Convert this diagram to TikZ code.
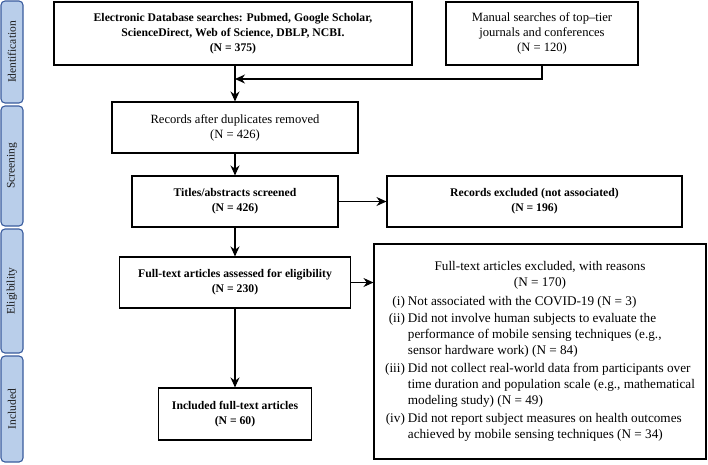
\documentclass[tikz,border=0pt]{standalone}
\usepackage{fontspec}
\setmainfont{Liberation Serif}
\usetikzlibrary{arrows.meta,calc}
\definecolor{barfill}{HTML}{B9CEEA}
\definecolor{barline}{HTML}{3A5C9E}
\begin{document}
\begin{tikzpicture}[x=1pt,y=-1pt,
  box/.style={draw=black,line width=1.1pt,fill=white,align=center,inner sep=2pt,
    font=\fontsize{12.6}{15}\selectfont},
  bbox/.style={box,font=\fontsize{11.7}{15}\selectfont\bfseries},
  bar/.style={draw=barline,fill=barfill,line width=1.1pt,rounded corners=4pt},
  barlabel/.style={rotate=90,font=\fontsize{11.5}{13}\selectfont,text=black!90},
  conn/.style={line width=1.1pt,-{Stealth[length=10pt,width=9pt]}},
  plain/.style={line width=1.1pt}]
\useasboundingbox (0,0) rectangle (708,464);
% side bars
\draw[bar] (1,1) rectangle (23,103);
\draw[bar] (1,106) rectangle (23,226);
\draw[bar] (1,229) rectangle (23,353);
\draw[bar] (1,356) rectangle (23,462);
\node[barlabel] (lid) at (12,52) {Identification};
\node[barlabel] (lsc) at (12,166) {Screening};
\node[barlabel] (lel) at (12,291) {Eligibility};
\node[barlabel] (lin) at (12,409) {Included};
% boxes
\node[bbox,minimum width=358pt,minimum height=63pt] (db) at (233,33.5)
  {Electronic Database searches: Pubmed, Google Scholar,\\ ScienceDirect, Web of Science, DBLP, NCBI.\\ (N = 375)};
\node[box,minimum width=192pt,minimum height=63pt] (man) at (542,33.5)
  {Manual searches of top–tier\\ journals and conferences\\ (N = 120)};
\node[box,minimum width=246pt,minimum height=51pt] (rec) at (235,127.5)
  {Records after duplicates removed\\ (N = 426)};
\node[bbox,minimum width=206pt,minimum height=51pt] (tit) at (235,201.5)
  {Titles/abstracts screened\\ (N = 426)};
\node[bbox,minimum width=295pt,minimum height=51pt] (rex) at (534.5,201.5)
  {Records excluded (not associated)\\ (N = 196)};
\node[bbox,minimum width=231pt,minimum height=51pt] (full) at (235,282.5)
  {Full-text articles assessed for eligibility\\ (N = 230)};
\node[bbox,minimum width=153pt,minimum height=52pt] (inc) at (235,414)
  {Included full-text articles\\ (N = 60)};
\node[box,minimum width=332pt,minimum height=215pt,font=\fontsize{13.2}{16}\selectfont] (fex) at (540,351.5)
  {\begin{tabular}{@{}r@{\hspace{3pt}}l@{}}
  \multicolumn{2}{c}{Full-text articles excluded, with reasons}\\
  \multicolumn{2}{c}{(N = 170)}\\[3pt]
  (i) & Not associated with the COVID-19 (N = 3)\\[1pt]
  (ii) & Did not involve human subjects to evaluate the\\
   & performance of mobile sensing techniques (e.g.,\\
   & sensor hardware work) (N = 84)\\[2pt]
  (iii) & Did not collect real-world data from participants over\\
   & time duration and population scale (e.g., mathematical\\
   & modeling study) (N = 49)\\[2pt]
  (iv) & Did not report subject measures on health outcomes\\
   & achieved by mobile sensing techniques (N = 34)
  \end{tabular}};
% connectors
\coordinate (j) at (235,79);
\draw[plain] (db.south -| rec.north) -- (j);
\draw[conn] (j) -- (rec.north);
\draw[conn] (man.south) |- (j);
\draw[conn] (rec.south) -- (tit.north);
\draw[conn] (tit.east) -- (rex.west);
\draw[conn] (tit.south) -- (full.north);
\draw[conn] (full.east) -- (full.east -| fex.west);
\draw[conn] (full.south) -- (inc.north);
\end{tikzpicture}
\end{document}
